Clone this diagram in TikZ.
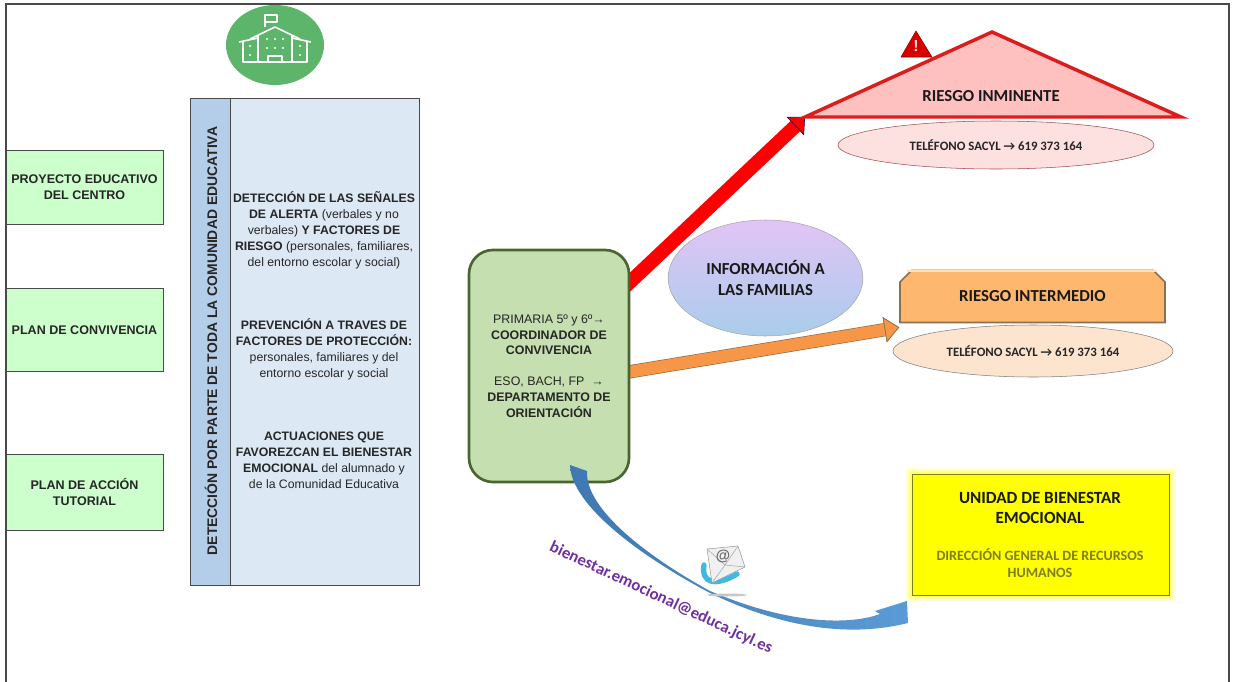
\documentclass[tikz,border=0pt]{standalone}
\usepackage{fontspec}
\setmainfont{Liberation Sans}
\newfontfamily\calibri{Carlito}
\usetikzlibrary{arrows.meta,backgrounds,calc,shapes.geometric,shapes.misc}

\definecolor{marco}{HTML}{4A4A4A}
\definecolor{verdeclaro}{HTML}{CCFFCC}
\definecolor{azulcol}{HTML}{B4CEEA}
\definecolor{azulfondo}{HTML}{DCE9F5}
\definecolor{verdecaja}{HTML}{C5DFB0}
\definecolor{verdeborde}{HTML}{4A6630}
\definecolor{verdecole}{HTML}{5DB56B}
\definecolor{rojoclaro}{HTML}{FFC0C0}
\definecolor{rojoborde}{HTML}{DD1C1C}
\definecolor{rojoflecha}{HTML}{FF0000}
\definecolor{rosa}{HTML}{FDE0E0}
\definecolor{naranja}{HTML}{FDB76E}
\definecolor{naranjaflecha}{HTML}{F79646}
\definecolor{pardo}{HTML}{8B6F50}
\definecolor{crema}{HTML}{FCE4CF}
\definecolor{morado}{HTML}{7030A0}
\definecolor{oliva}{HTML}{7F7F20}
\definecolor{amarillo}{HTML}{FFFF00}
\definecolor{lila}{HTML}{E2C4F6}
\definecolor{celeste}{HTML}{A9CDEB}
\definecolor{azulA}{HTML}{3F78B2}
\definecolor{azulB}{HTML}{5B9BD5}

\begin{document}
\begin{tikzpicture}[x=.75pt,y=-.75pt,
    plan box/.style={rectangle,draw=marco,line width=.7pt,fill=verdeclaro,minimum width=117.75pt,
      align=center,font=\fontsize{9.4}{11.6}\selectfont\bfseries,text=black!85},
    col text/.style={align=center,text=black!85,font=\fontsize{9.2}{12}\selectfont},
    phone ellipse/.style={ellipse,draw,inner sep=0pt,align=center,text=black!85,
      font=\calibri\fontsize{9.6}{11}\selectfont\bfseries},
    title text/.style={align=center,text=black!90,font=\calibri\fontsize{12.6}{15.6}\selectfont\bfseries}]
  \useasboundingbox (0,0) rectangle (1236,682);
  \draw[marco,line width=.8pt] (6,682) -- (6,4) -- (1229,4) -- (1229,682);

  % school icon
  \node[ellipse,fill=verdecole,minimum width=73.5pt,minimum height=60pt,inner sep=0pt] (cole) at (275,45) {};
  \begin{scope}[white,line width=1.2pt,line join=round]
    \draw (265,27) -- (265,15) -- (277,15) -- (277,22) -- (265,22);
    \draw (250,39) -- (275,27) -- (300,39);
    \draw (258,62) -- (258,36) (292,62) -- (292,36);
    \draw (239,42) -- (258,38) (311,42) -- (292,38);
    \draw (243,42) -- (243,62) -- (307,62) -- (307,42);
    \draw (268,62) -- (268,56) -- (282,56) -- (282,62);
    \foreach \wx in {267,275,283} {
      \fill (\wx,39) circle (.8pt);
      \fill (\wx,48) circle (.8pt);
    }
    \foreach \wy in {46,55} {
      \fill (250,\wy) circle (.9pt);
      \fill (300,\wy) circle (.9pt);
    }
  \end{scope}

  % left column
  \node[plan box,minimum height=55.5pt] (proyecto) at (84.5,187) {PROYECTO EDUCATIVO\\DEL CENTRO};
  \node[plan box,minimum height=62.25pt] (convivencia) at (84.5,330) {PLAN DE CONVIVENCIA};
  \node[plan box,minimum height=57pt] (tutorial) at (84.5,492) {PLAN DE ACCIÓN\\TUTORIAL};

  % table
  \node[rectangle,draw=marco,line width=.7pt,fill=azulcol,minimum width=30pt,minimum height=365.25pt,inner sep=0pt] (cabecera) at (210,341.5) {};
  \node[rectangle,draw=marco,line width=.7pt,fill=azulfondo,minimum width=141.75pt,minimum height=365.25pt,inner sep=0pt] (cuerpo) at (324.5,341.5) {};
  \node[rotate=90,text=black!85,font=\fontsize{10.45}{12}\selectfont\bfseries] (deteccion) at (211,341) {DETECCIÓN POR PARTE DE TODA LA COMUNIDAD EDUCATIVA};
  \node[col text] (senales) at (324,230) {\textbf{DETECCIÓN DE LAS SEÑALES}\\\textbf{DE ALERTA} (verbales y no\\verbales) \textbf{Y FACTORES DE}\\\textbf{RIESGO} (personales, familiares,\\del entorno escolar y social)};
  \node[col text] (prevencion) at (324,349) {\textbf{PREVENCIÓN A TRAVES DE}\\\textbf{FACTORES DE PROTECCIÓN:}\\personales, familiares y del\\entorno escolar y social};
  \node[col text] (actuaciones) at (324,460) {\textbf{ACTUACIONES QUE}\\\textbf{FAVOREZCAN EL BIENESTAR}\\\textbf{EMOCIONAL} del alumnado y\\de la Comunidad Educativa};

  % centre
  \node[rectangle,rounded corners=18pt,draw=verdeborde,line width=2pt,fill=verdecaja,
    minimum width=120pt,minimum height=174pt,inner sep=0pt,align=center,text=black!85,
    font=\fontsize{9.3}{11.7}\selectfont] (orientacion) at (549,366)
    {PRIMARIA 5º y 6º→\\\textbf{COORDINADOR DE}\\\textbf{CONVIVENCIA}\\[11.7pt]ESO, BACH, FP\ \ →\\\textbf{DEPARTAMENTO DE}\\\textbf{ORIENTACIÓN}};
  \node[ellipse,draw=black!35,top color=lila,bottom color=celeste,
    minimum width=146pt,minimum height=87pt,inner sep=0pt,title text] (familias) at (765.5,278) {INFORMACIÓN A\\LAS FAMILIAS};

  % right
  \coordinate (izq) at (805,117);
  \coordinate (cima) at (992,32);
  \coordinate (der) at (1181,117);
  \begin{scope}[on background layer]
    \path (orientacion.46) edge [line width=10.5pt,rojoflecha,shorten <=-10pt,
      -{Triangle[width=19pt,length=10pt,color=violet!50!black,fill=rojoflecha,line width=.5pt]}] (izq);
  \end{scope}
  \draw[rojoborde,line width=2.6pt,fill=rojoclaro,line join=miter] (izq) -- (cima) -- (der) -- cycle;
  \node[title text] (inminente) at (991,96) {RIESGO INMINENTE};
  \node[phone ellipse,draw=red!50!black!70,fill=rosa,minimum width=237pt,minimum height=36pt] (tel1) at (996,145) {TELÉFONO SACYL → 619 373 164};
  \coordinate (alertaA) at (916,31);
  \coordinate (alertaB) at (901,57);
  \coordinate (alertaC) at (932,57);
  \draw[red!50!black,fill=red!85!black,line join=round,thin] (alertaA) -- (alertaB) -- (alertaC) -- cycle;
  \node[white!85!red,font=\fontsize{12}{12}\selectfont\bfseries,inner sep=0pt] (signo) at (916,46) {!};

  \node[chamfered rectangle,chamfered rectangle corners={north west,north east},
    chamfered rectangle xsep=4.5pt,chamfered rectangle ysep=4.5pt,draw=pardo,line width=1.2pt,fill=naranja,
    minimum width=198.75pt,minimum height=39pt,inner sep=0pt,title text] (intermedio) at (1032.5,296.5) {RIESGO INTERMEDIO};
  \draw[naranja!45!white,line width=1pt] (907,271) -- (1157,271);
  \node[phone ellipse,draw=black!50,fill=crema,minimum width=210pt,minimum height=39pt] (tel2) at (1033,351) {TELÉFONO SACYL → 619 373 164};
  \coordinate (puntaNar) at ($(intermedio.south west)+(0,4)$);
  \begin{scope}[on background layer]
    \path (orientacion.-4) edge [line width=9pt,naranjaflecha,shorten <=-6pt,preaction={draw=pardo,line width=10pt},
      -{Triangle[width=19pt,length=11pt,color=pardo,fill=naranjaflecha,line width=.5pt]}] (puntaNar);
  \end{scope}

  \node[rectangle,draw=oliva,fill=amarillo,minimum width=192.75pt,minimum height=90.75pt,inner sep=0pt,
    preaction={draw=amarillo!15,line width=9pt},preaction={draw=amarillo!30,line width=6pt},
    preaction={draw=amarillo!55,line width=3pt}] (unidad) at (1040.5,534.5) {};
  \node[title text,font=\calibri\fontsize{12.8}{15.4}\selectfont\bfseries] (unidadtit) at (1040,508) {UNIDAD DE BIENESTAR\\EMOCIONAL};
  \node[align=center,text=oliva,font=\calibri\fontsize{10.6}{13}\selectfont\bfseries] (direccion) at (1040,563) {DIRECCIÓN GENERAL DE RECURSOS\\HUMANOS};

  % arrow to the unit
  \coordinate (correoIni) at (570,465);
  \coordinate (correoFin) at (908,623);
  \shade[left color=azulA,right color=azulB]
    (correoIni) .. controls (571,505) and (640,556) .. (710,593)
    .. controls (770,622) and (840,640) .. (correoFin)
    -- (907,601) -- (875,611) -- (880,614)
    .. controls (850,625) and (790,625) .. (710,591)
    .. controls (650,558) and (585,510) .. (587,471) -- cycle;
  \node[rotate=-25,text=morado,font=\calibri\fontsize{12.5}{14}\selectfont\bfseries] (correo) at (661,598) {bienestar.emocional@educa.jcyl.es};

  % mail icon
  \fill[black!22] (727,595) ellipse (20 and 1.5);
  \draw[azulB!70!cyan,line width=4pt,line cap=round] (704,565) .. controls (701,583) and (715,587) .. (737,574);
  \draw[black!40,fill=black!6,line join=round] (707,549) -- (738,546) -- (745,567) -- (712,583) -- cycle;
  \draw[black!35] (707,549) -- (725,565) -- (738,546) (712,583) -- (725,565) -- (745,567);
  \node[inner sep=0pt,text=black!60,font=\fontsize{11}{11}\selectfont\bfseries] (arroba) at (723,556) {@};
\end{tikzpicture}
\end{document}
